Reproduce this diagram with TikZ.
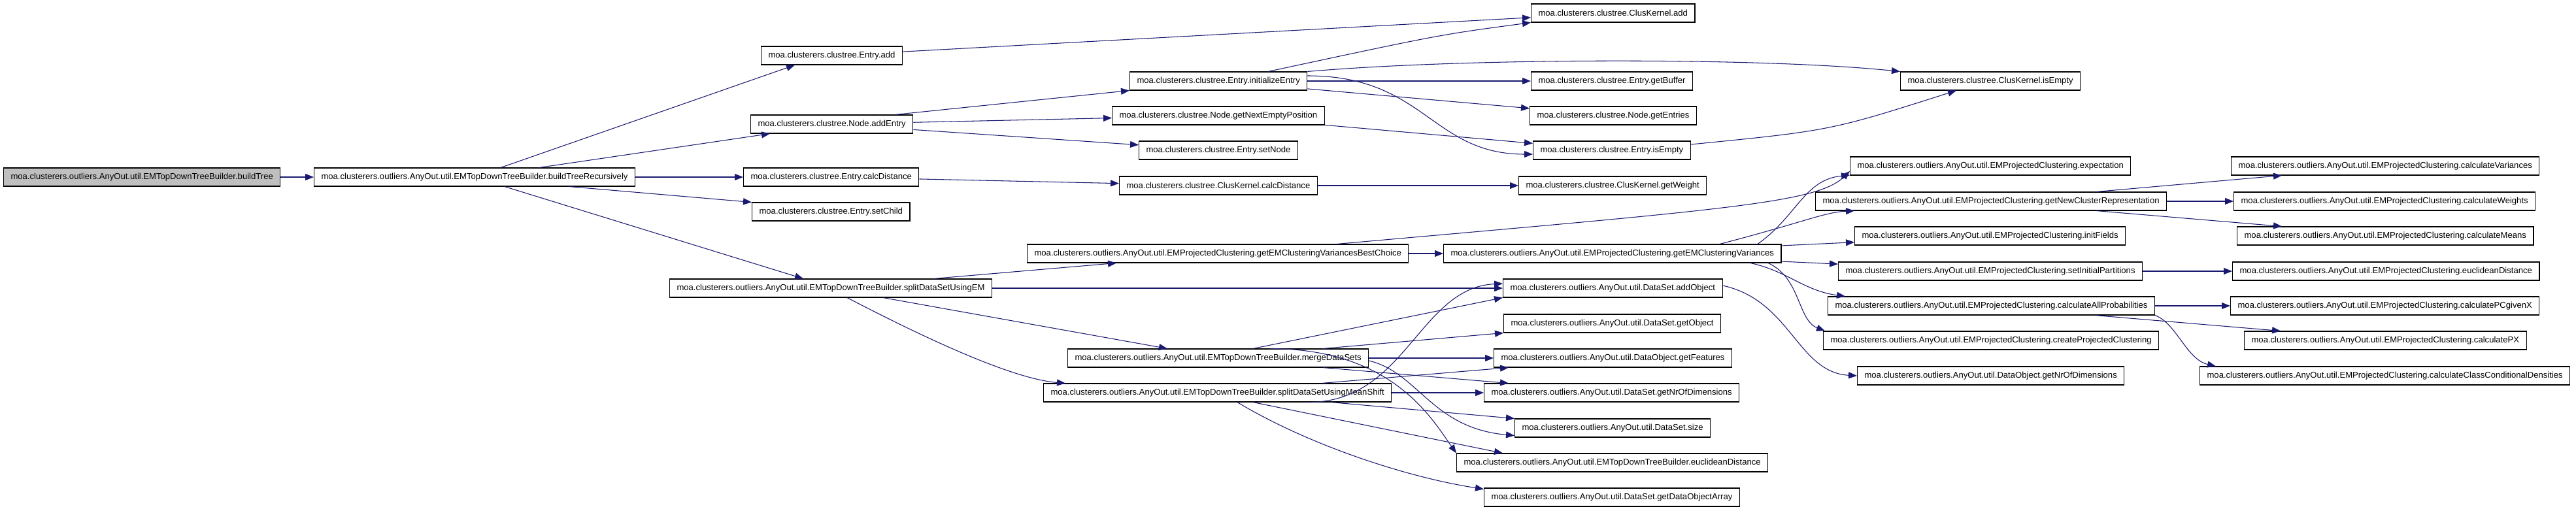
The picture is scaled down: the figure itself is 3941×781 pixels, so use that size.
\documentclass[tikz,border=0pt]{standalone}
\usepackage{fontspec}
\setmainfont{Liberation Sans}
\usepackage{xcolor}
\usepackage{tikz}
\usetikzlibrary{arrows.meta, positioning, calc}
\definecolor{edgeblue}{HTML}{191970}
\definecolor{rootgray}{HTML}{BFBFBF}

\begin{document}
\begin{tikzpicture}[
    x=0.02cm, y=-0.02cm,
    fnbox/.style={rectangle, draw=black, line width=0.6pt, minimum height=0.56cm, inner xsep=0.22cm, inner ysep=0pt, anchor=west, font=\fontsize{7.45}{9}\selectfont},
    rootbox/.style={fnbox, fill=rootgray},
    arrow/.style={-{Triangle[length=0.26cm, width=0.2cm]}, draw=edgeblue, line width=0.6pt}
]
\useasboundingbox (0,0) rectangle (3941,781);

% ==========================================
% RAIZ Y PRIMER NIVEL
% ==========================================
\node[rootbox] (bt) at (5,271) {moa.clusterers.outliers.AnyOut.util.EMTopDownTreeBuilder.buildTree};
\node[fnbox] (btr) at (480,271) {moa.clusterers.outliers.AnyOut.util.EMTopDownTreeBuilder.buildTreeRecursively};

\node[fnbox] (eadd) at (1164,85) {moa.clusterers.clustree.Entry.add};
\node[fnbox] (naddentry) at (1148,190) {moa.clusterers.clustree.Node.addEntry};
\node[fnbox] (ecalc) at (1137,271) {moa.clusterers.clustree.Entry.calcDistance};
\node[fnbox] (esetchild) at (1150,324) {moa.clusterers.clustree.Entry.setChild};
\node[fnbox] (splitem) at (1024,441) {moa.clusterers.outliers.AnyOut.util.EMTopDownTreeBuilder.splitDataSetUsingEM};

% ==========================================
% CLUSTREE
% ==========================================
\node[fnbox] (einit) at (1728,124) {moa.clusterers.clustree.Entry.initializeEntry};
\node[fnbox] (nnext) at (1701,177) {moa.clusterers.clustree.Node.getNextEmptyPosition};
\node[fnbox] (esetnode) at (1742,230) {moa.clusterers.clustree.Entry.setNode};
\node[fnbox] (kcalc) at (1712,284) {moa.clusterers.clustree.ClusKernel.calcDistance};

\node[fnbox] (kadd) at (2342,20) {moa.clusterers.clustree.ClusKernel.add};
\node[fnbox] (getbuffer) at (2342,124) {moa.clusterers.clustree.Entry.getBuffer};
\node[fnbox] (getentries) at (2340,177) {moa.clusterers.clustree.Node.getEntries};
\node[fnbox] (eisempty) at (2345,230) {moa.clusterers.clustree.Entry.isEmpty};
\node[fnbox] (getweight) at (2323,284) {moa.clusterers.clustree.ClusKernel.getWeight};
\node[fnbox] (kisempty) at (2907,124) {moa.clusterers.clustree.ClusKernel.isEmpty};

% ==========================================
% ANYOUT: EM Y DATASET
% ==========================================
\node[fnbox] (bestchoice) at (1571,388) {moa.clusterers.outliers.AnyOut.util.EMProjectedClustering.getEMClusteringVariancesBestChoice};
\node[fnbox] (merge) at (1633,548) {moa.clusterers.outliers.AnyOut.util.EMTopDownTreeBuilder.mergeDataSets};
\node[fnbox] (meanshift) at (1596,601) {moa.clusterers.outliers.AnyOut.util.EMTopDownTreeBuilder.splitDataSetUsingMeanShift};

\node[fnbox] (emvar) at (2208,388) {moa.clusterers.outliers.AnyOut.util.EMProjectedClustering.getEMClusteringVariances};
\node[fnbox] (addobject) at (2299,441) {moa.clusterers.outliers.AnyOut.util.DataSet.addObject};
\node[fnbox] (getobject) at (2300,495) {moa.clusterers.outliers.AnyOut.util.DataSet.getObject};
\node[fnbox] (getfeatures) at (2285,548) {moa.clusterers.outliers.AnyOut.util.DataObject.getFeatures};
\node[fnbox] (dsdims) at (2270,601) {moa.clusterers.outliers.AnyOut.util.DataSet.getNrOfDimensions};
\node[fnbox] (dssize) at (2317,655) {moa.clusterers.outliers.AnyOut.util.DataSet.size};
\node[fnbox] (treeeucl) at (2228,708) {moa.clusterers.outliers.AnyOut.util.EMTopDownTreeBuilder.euclideanDistance};
\node[fnbox] (dataobjarr) at (2270,761) {moa.clusterers.outliers.AnyOut.util.DataSet.getDataObjectArray};

\node[fnbox] (expectation) at (2830,254) {moa.clusterers.outliers.AnyOut.util.EMProjectedClustering.expectation};
\node[fnbox] (newclusterrep) at (2777,308) {moa.clusterers.outliers.AnyOut.util.EMProjectedClustering.getNewClusterRepresentation};
\node[fnbox] (initfields) at (2837,361) {moa.clusterers.outliers.AnyOut.util.EMProjectedClustering.initFields};
\node[fnbox] (setinitpart) at (2812,415) {moa.clusterers.outliers.AnyOut.util.EMProjectedClustering.setInitialPartitions};
\node[fnbox] (calcallprob) at (2796,468) {moa.clusterers.outliers.AnyOut.util.EMProjectedClustering.calculateAllProbabilities};
\node[fnbox] (createproj) at (2789,521) {moa.clusterers.outliers.AnyOut.util.EMProjectedClustering.createProjectedClustering};
\node[fnbox] (dodims) at (2841,575) {moa.clusterers.outliers.AnyOut.util.DataObject.getNrOfDimensions};

\node[fnbox] (calcvar) at (3413,254) {moa.clusterers.outliers.AnyOut.util.EMProjectedClustering.calculateVariances};
\node[fnbox] (calcweights) at (3417,308) {moa.clusterers.outliers.AnyOut.util.EMProjectedClustering.calculateWeights};
\node[fnbox] (calcmeans) at (3422,361) {moa.clusterers.outliers.AnyOut.util.EMProjectedClustering.calculateMeans};
\node[fnbox] (emeucl) at (3415,415) {moa.clusterers.outliers.AnyOut.util.EMProjectedClustering.euclideanDistance};
\node[fnbox] (pcgivenx) at (3412,468) {moa.clusterers.outliers.AnyOut.util.EMProjectedClustering.calculatePCgivenX};
\node[fnbox] (calcpx) at (3433,521) {moa.clusterers.outliers.AnyOut.util.EMProjectedClustering.calculatePX};
\node[fnbox] (ccd) at (3365,575) {moa.clusterers.outliers.AnyOut.util.EMProjectedClustering.calculateClassConditionalDensities};

% ==========================================
% LLAMADAS DIRECTAS
% ==========================================
\foreach \i/\j in {bt/btr, btr/ecalc, eadd/kadd, naddentry/nnext, naddentry/esetnode, ecalc/kcalc,
    einit/getbuffer, einit/getentries, nnext/eisempty, kcalc/getweight, splitem/addobject,
    bestchoice/emvar, merge/getfeatures, meanshift/dsdims, emvar/initfields, emvar/setinitpart,
    newclusterrep/calcweights, setinitpart/emeucl, calcallprob/pcgivenx} {
    \draw[arrow] (\i) -- (\j);
}

% ==========================================
% LLAMADAS DESDE BORDES
% ==========================================
\draw[arrow] ($(btr.north west)+(286,0)$) -- ($(eadd.south west)+(52,0)$);
\draw[arrow] ($(btr.north west)+(345,0)$) -- ($(naddentry.south west)+(30,0)$);
\draw[arrow] ($(btr.south west)+(391,0)$) -- (esetchild.north west);
\draw[arrow] ($(btr.south west)+(292,0)$) -- ($(splitem.north west)+(205,0)$);
\draw[arrow] ($(naddentry.north west)+(221,0)$) -- (einit.south west);
\draw[arrow] ($(einit.north west)+(212,0)$) .. controls (2203,53) .. (kadd.south west);
\draw[arrow] (einit.north east) .. controls (2250,88) and (2700,88) .. (kisempty.north west);
\draw[arrow] ($(einit.east)+(0,-8)$) .. controls (2180,116) and (2190,236) .. ($(eisempty.west)+(0,6)$);
\draw[arrow] ($(eisempty.east)+(0,-9)$) .. controls (2800,200) .. ($(kisempty.south west)+(86,0)$);

\draw[arrow] ($(splitem.north west)+(404,0)$) -- ($(bestchoice.south west)+(137,0)$);
\draw[arrow] ($(splitem.south west)+(327,0)$) -- ($(merge.north west)+(153,0)$);
\draw[arrow] ($(splitem.south west)+(272,0)$) .. controls (1420,520) and (1550,580) .. ($(meanshift.north west)+(34,0)$);

\draw[arrow] ($(bestchoice.north west)+(474,0)$) .. controls (2650,320) and (2780,310) .. ($(expectation.west)+(0,8)$);
\draw[arrow] ($(emvar.north west)+(481,0)$) .. controls (2750,330) and (2760,275) .. ($(expectation.west)+(0,14)$);
\draw[arrow] ($(emvar.north west)+(423,0)$) .. controls (2760,340) and (2790,325) .. ($(newclusterrep.south west)+(60,0)$);
\draw[arrow] ($(emvar.south west)+(470,0)$) .. controls (2735,415) and (2760,445) .. ($(calcallprob.north west)+(27,0)$);
\draw[arrow] ($(emvar.south west)+(497,0)$) .. controls (2755,425) and (2750,490) .. ($(createproj.north west)+(3,0)$);

\draw[arrow] ($(newclusterrep.north west)+(430,0)$) -- ($(calcvar.south west)+(78,0)$);
\draw[arrow] ($(newclusterrep.south west)+(430,0)$) -- ($(calcmeans.north west)+(69,0)$);
\draw[arrow] ($(calcallprob.south west)+(409,0)$) -- ($(calcpx.north west)+(56,0)$);
\draw[arrow] (calcallprob.south east) .. controls (3330,495) and (3345,550) .. ($(ccd.north west)+(25,0)$);
\draw[arrow] ($(addobject.east)+(0,-4)$) .. controls (2740,460) and (2750,570) .. (dodims.west);

\draw[arrow] ($(merge.north west)+(284,0)$) -- (addobject.south west);
\draw[arrow] ($(merge.north west)+(391,0)$) -- (getobject.south west);
\draw[arrow] ($(merge.south west)+(391,0)$) -- ($(dsdims.north west)+(38,0)$);
\draw[arrow] ($(merge.east)+(0,4)$) .. controls (2170,570) and (2190,655) .. ($(dssize.south west)+(0,-3)$);
\draw[arrow] ($(merge.north west)+(310,0)$) .. controls (2130,534) and (2190,640) .. (treeeucl.north west);

\draw[arrow] ($(meanshift.south west)+(400,0)$) .. controls (2150,620) and (2170,440) .. ($(addobject.west)+(0,-7)$);
\draw[arrow] ($(meanshift.north west)+(426,0)$) -- ($(getfeatures.south west)+(23,0)$);
\draw[arrow] ($(meanshift.south west)+(440,0)$) -- (dssize.north west);
\draw[arrow] ($(meanshift.south west)+(321,0)$) -- ($(treeeucl.north west)+(71,0)$);
\draw[arrow] ($(meanshift.south west)+(297,0)$) .. controls (2000,680) and (2150,730) .. ($(dataobjarr.north west)+(0,2)$);

\end{tikzpicture}
\end{document}
